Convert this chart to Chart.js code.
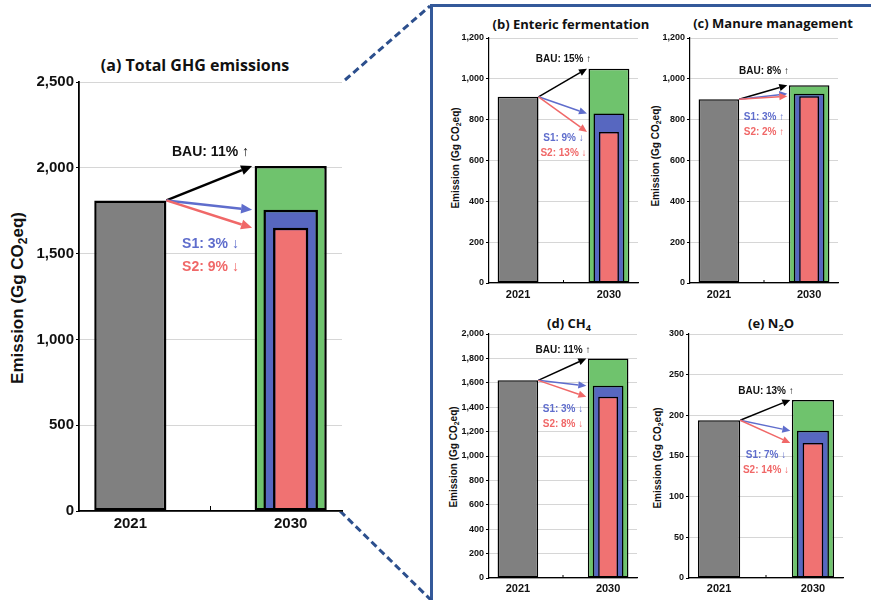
<!DOCTYPE html>
<html>
<head>
<meta charset="utf-8">
<script src="https://cdn.jsdelivr.net/npm/chart.js@4.4.0/dist/chart.umd.min.js"></script>
<style>
  body { margin: 0; background: #fff; }
  #wrap { position: relative; width: 871px; height: 600px; overflow: hidden; font-family: "Liberation Sans", Arial, sans-serif; }
  canvas { position: absolute; }
  svg { position: absolute; left: 0; top: 0; }
  .ttl { position: absolute; transform: translate(-50%, -50%); white-space: nowrap; font-family: "Open Sans", sans-serif; font-weight: 700; color: #111; }
  .ytl { position: absolute; transform: translate(-50%, -50%) rotate(-90deg); white-space: nowrap; font-weight: 700; color: #111; }
  sub { font-size: 70%; vertical-align: -0.3em; line-height: 0; }
</style>
</head>
<body>
<div id="wrap">
  <svg width="871" height="600">
    <path d="M431.5 600 V5.5 H871" fill="none" stroke="#34599a" stroke-width="3"/>
    <line x1="345" y1="80" x2="430" y2="6" stroke="#2c4f8d" stroke-width="3" stroke-dasharray="7 4"/>
    <line x1="340" y1="511" x2="431" y2="600" stroke="#2c4f8d" stroke-width="3" stroke-dasharray="7 4"/>
  </svg>

  <div class="ttl" style="left:195px;top:65px;font-size:16px">(a) Total GHG emissions</div>
  <div class="ttl" style="left:571px;top:24px;font-size:13px">(b) Enteric fermentation</div>
  <div class="ttl" style="left:773px;top:23px;font-size:13px">(c) Manure management</div>
  <div class="ttl" style="left:569px;top:323px;font-size:13px">(d) CH<sub>4</sub></div>
  <div class="ttl" style="left:771px;top:323px;font-size:13px">(e) N<sub>2</sub>O</div>

  <div class="ytl" style="left:18px;top:298px;font-size:17px">Emission (Gg CO<sub>2</sub>eq)</div>
  <div class="ytl" style="left:455px;top:158px;font-size:10px">Emission (Gg CO<sub>2</sub>eq)</div>
  <div class="ytl" style="left:655px;top:156px;font-size:10px">Emission (Gg CO<sub>2</sub>eq)</div>
  <div class="ytl" style="left:453px;top:457px;font-size:10px">Emission (Gg CO<sub>2</sub>eq)</div>
  <div class="ytl" style="left:657px;top:458px;font-size:10px">Emission (Gg CO<sub>2</sub>eq)</div>

  <canvas id="ca"></canvas>
  <canvas id="cb"></canvas>
  <canvas id="cc"></canvas>
  <canvas id="cd"></canvas>
  <canvas id="ce"></canvas>
</div>

<script>
// panels: (a) total, (b) enteric, (c) manure, (d) CH4, (e) N2O
const years = ['2021', '2030'];
const base2021 = [1810, 912, 900, 1620, 194];
const bau2030 = [2010, 1050, 968, 1800, 219];
const s1_2030 = [1755, 830, 927, 1575, 181];
const s2_2030 = [1650, 740, 915, 1485, 166];
const yMax = [2500, 1200, 1200, 2000, 300];
const yStep = [500, 200, 200, 200, 50];
const bauPct = ['11% ↑', '15% ↑', '8% ↑', '11% ↑', '13% ↑'];
const s1Pct = ['3% ↓', '9% ↓', '3% ↑', '3% ↓', '7% ↓'];
const s2Pct = ['9% ↓', '13% ↓', '2% ↑', '8% ↓', '14% ↓'];

const GRAY = '#808080', GREEN = '#6fc36d', BLUE = '#5767c0', RED = '#f07272';
const BLUE_TXT = '#5f6dcc', RED_TXT = '#f06868';
const FONT = '"Liberation Sans", Arial, sans-serif';

// canvas placement and per-panel styling
const layouts = [
  { id: 'ca', left: 0,   top: 40,  w: 345, h: 500, yW: 79, padTop: 42, padRight: 3, xH: 29, xPad: 4,
    tick: 15, xTick: 15, lab: 14, lw: 2.5, axis: 1.8, head: 11, bauGap: 7, s1Off: 16, step: 23 },
  { id: 'cb', left: 460, top: 30,  w: 180, h: 275, yW: 29, padTop: 8, padRight: 2, xH: 22, xPad: 5,
    tick: 9, xTick: 11, lab: 10, lw: 1.5, axis: 1.2, head: 8, bauGap: 4, s1Off: 6, step: 15.5 },
  { id: 'cc', left: 661, top: 30,  w: 180, h: 275, yW: 29, padTop: 8, padRight: 3, xH: 22, xPad: 5,
    tick: 9, xTick: 11, lab: 10, lw: 1.5, axis: 1.2, head: 8, bauGap: 9, s1Off: 21, step: 15.5 },
  { id: 'cd', left: 460, top: 326, w: 180, h: 274, yW: 29, padTop: 8, padRight: 3, xH: 22, xPad: 4,
    tick: 9, xTick: 11, lab: 10, lw: 1.5, axis: 1.2, head: 8, bauGap: 3, s1Off: 12, step: 15.5 },
  { id: 'ce', left: 660, top: 326, w: 186, h: 274, yW: 29, padTop: 8, padRight: 3, xH: 22, xPad: 4,
    tick: 9, xTick: 11, lab: 10, lw: 1.5, axis: 1.2, head: 8, bauGap: 4, s1Off: 12, step: 15.5 }
];

function drawArrow(ctx, x1, y1, x2, y2, color, lw, head) {
  const ang = Math.atan2(y2 - y1, x2 - x1);
  const bx = x2 - head * Math.cos(ang), by = y2 - head * Math.sin(ang);
  const hw = head * 0.45;
  ctx.strokeStyle = color;
  ctx.lineWidth = lw;
  ctx.beginPath();
  ctx.moveTo(x1, y1);
  ctx.lineTo(bx, by);
  ctx.stroke();
  ctx.fillStyle = color;
  ctx.beginPath();
  ctx.moveTo(x2, y2);
  ctx.lineTo(bx + hw * Math.sin(ang), by - hw * Math.cos(ang));
  ctx.lineTo(bx - hw * Math.sin(ang), by + hw * Math.cos(ang));
  ctx.closePath();
  ctx.fill();
}

function arrowPlugin(i, L) {
  return {
    id: 'arrows' + i,
    afterDatasetsDraw(chart) {
      const ctx = chart.ctx;
      const bars = chart.getDatasetMeta(2).data;
      const g = bars[0].getProps(['x', 'y', 'width'], true);
      const n = bars[1].getProps(['x', 'y', 'width'], true);
      const sx = g.x + g.width / 2, sy = g.y;
      const tx = n.x - n.width / 2 - L.lw;
      const ys = chart.scales.y;
      const yBau = ys.getPixelForValue(bau2030[i]);
      const yS1 = ys.getPixelForValue(s1_2030[i]);
      const yS2 = ys.getPixelForValue(s2_2030[i]);
      ctx.save();
      drawArrow(ctx, sx, sy, tx, yBau, '#000', L.lw, L.head);
      drawArrow(ctx, sx, sy, tx, yS1, BLUE_TXT, L.lw, L.head);
      drawArrow(ctx, sx, sy, tx, yS2, RED_TXT, L.lw, L.head);

      const mx = (sx + n.x - n.width / 2) / 2;
      ctx.font = 'bold ' + L.lab + 'px ' + FONT;
      ctx.textAlign = 'center';
      ctx.textBaseline = 'bottom';
      ctx.fillStyle = '#111';
      ctx.fillText('BAU: ' + bauPct[i], mx, yBau - L.bauGap);
      ctx.textBaseline = 'middle';
      ctx.fillStyle = BLUE_TXT;
      ctx.fillText('S1: ' + s1Pct[i], mx, yS2 + L.s1Off);
      ctx.fillStyle = RED_TXT;
      ctx.fillText('S2: ' + s2Pct[i], mx, yS2 + L.s1Off + L.step);
      ctx.restore();
    },
    afterDraw(chart) {
      // small inner tick between the two years
      const ctx = chart.ctx;
      const x = chart.scales.x.getPixelForValue(0.5);
      const b = chart.chartArea.bottom;
      ctx.save();
      ctx.strokeStyle = '#000';
      ctx.lineWidth = 1;
      ctx.beginPath();
      ctx.moveTo(x, b);
      ctx.lineTo(x, b - (L.lab > 12 ? 5 : 3));
      ctx.stroke();
      ctx.restore();
    }
  };
}

function makeChart(i) {
  const L = layouts[i];
  const cv = document.getElementById(L.id);
  cv.width = L.w;
  cv.height = L.h;
  cv.style.left = L.left + 'px';
  cv.style.top = L.top + 'px';
  cv.style.width = L.w + 'px';
  cv.style.height = L.h + 'px';

  const common = { borderColor: '#000', borderWidth: L.lw, categoryPercentage: 1, grouped: false, borderSkipped: false };

  new Chart(cv.getContext('2d'), {
    type: 'bar',
    data: {
      datasets: [
        Object.assign({ label: 'S2', data: [{ x: 1, y: s2_2030[i] }], backgroundColor: RED, barPercentage: 0.22 }, common),
        Object.assign({ label: 'S1', data: [{ x: 1, y: s1_2030[i] }], backgroundColor: BLUE, barPercentage: 0.34 }, common),
        Object.assign({ label: 'BAU', data: [{ x: 0, y: base2021[i] }, { x: 1, y: bau2030[i] }],
          backgroundColor: [GRAY, GREEN], barPercentage: 0.45 }, common)
      ]
    },
    options: {
      responsive: false,
      animation: false,
      layout: { padding: { top: L.padTop, right: L.padRight, left: 0, bottom: 0 } },
      plugins: { legend: { display: false }, tooltip: { enabled: false } },
      scales: {
        x: {
          type: 'linear',
          min: -0.32,
          max: 1.32,
          offset: false,
          afterBuildTicks: s => { s.ticks = years.map((_, k) => ({ value: k })); },
          afterFit: s => { s.height = L.xH; },
          grid: { display: false, drawTicks: false, tickLength: 0 },
          border: { color: '#000', width: L.axis },
          ticks: {
            autoSkip: false, maxRotation: 0, padding: L.xPad,
            color: '#111', font: { family: FONT, weight: 'bold', size: L.xTick },
            callback: v => years[Math.round(v)]
          }
        },
        y: {
          min: 0,
          max: yMax[i],
          afterFit: s => { s.width = L.yW; },
          grid: { color: '#d6d6d6', lineWidth: 1, tickColor: '#000', tickLength: 3 },
          border: { color: '#000', width: L.axis },
          ticks: {
            stepSize: yStep[i], padding: 2, color: '#111',
            font: { family: FONT, weight: 'bold', size: L.tick }
          }
        }
      }
    },
    plugins: [arrowPlugin(i, L)]
  });
}

layouts.forEach((_, i) => makeChart(i));
</script>
</body>
</html>
